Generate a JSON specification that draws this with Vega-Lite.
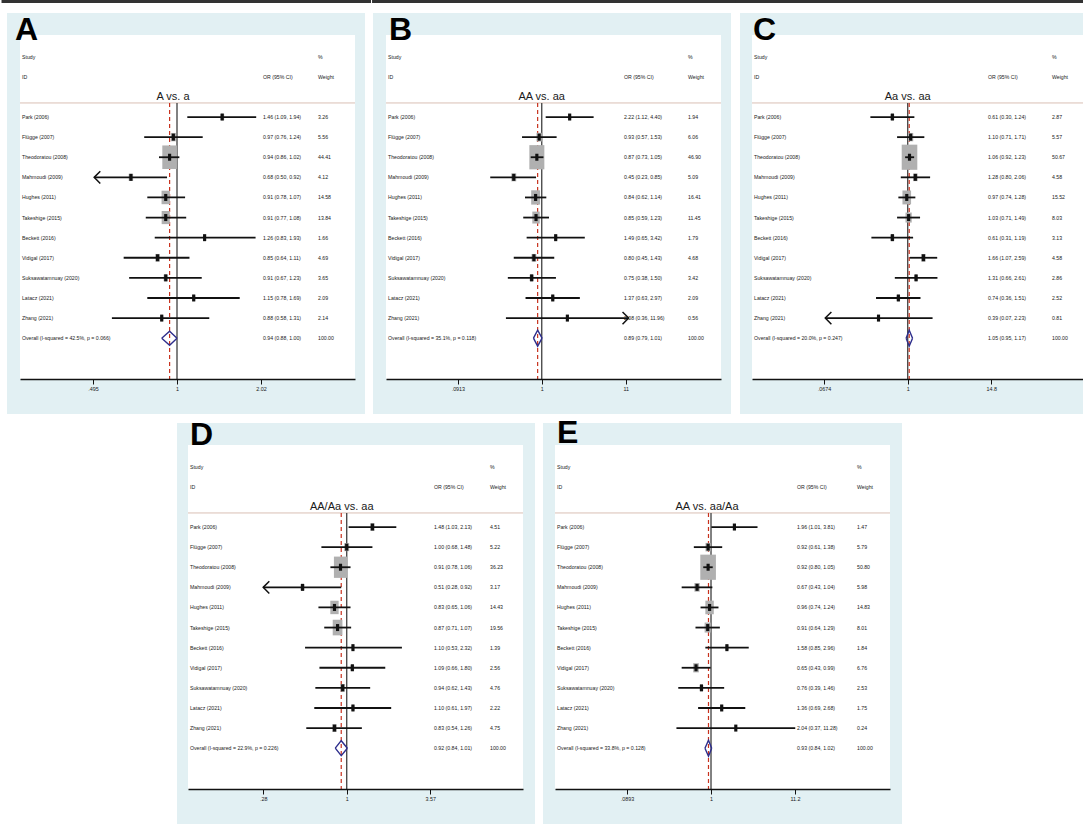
{
  "$schema": "https://vega.github.io/schema/vega-lite/v6.json",
  "background": "white",
  "padding": 0,
  "bounds": "full",
  "spacing": 1,
  "config": {
    "view": {"stroke": null},
    "axisY": {"disable": true},
    "axisX": {
      "domainColor": "#111111", "domainWidth": 1.3, "tickColor": "#111111", "tickWidth": 1, "tickSize": 5,
      "labelFont": "Liberation Sans, Arial", "labelFontSize": 5.4, "labelColor": "#1a1a1a",
      "labelPadding": 2, "grid": false, "labelFlush": false, "labelOverlap": false
    }
  },
  "datasets": {
    "A": [
      {"kind": "head", "row": -2, "study": "Study", "wt": "%"},
      {"kind": "head", "row": -1, "study": "ID", "ci": "OR (95% CI)", "wt": "Weight"},
      {"kind": "study", "row": 1, "study": "Park (2006)", "est": 1.46, "lci": 1.09, "uci": 1.94, "w": 3.26, "ci": "1.46 (1.09, 1.94)", "wt": "3.26"},
      {"kind": "study", "row": 2, "study": "Flügge (2007)", "est": 0.97, "lci": 0.76, "uci": 1.24, "w": 5.56, "ci": "0.97 (0.76, 1.24)", "wt": "5.56"},
      {"kind": "study", "row": 3, "study": "Theodoratou (2008)", "est": 0.94, "lci": 0.86, "uci": 1.02, "w": 44.41, "ci": "0.94 (0.86, 1.02)", "wt": "44.41"},
      {"kind": "study", "row": 4, "study": "Mahmoudi (2009)", "est": 0.68, "lci": 0.50, "uci": 0.92, "w": 4.12, "ci": "0.68 (0.50, 0.92)", "wt": "4.12", "arrow": "left"},
      {"kind": "study", "row": 5, "study": "Hughes (2011)", "est": 0.91, "lci": 0.78, "uci": 1.07, "w": 14.58, "ci": "0.91 (0.78, 1.07)", "wt": "14.58"},
      {"kind": "study", "row": 6, "study": "Takeshige (2015)", "est": 0.91, "lci": 0.77, "uci": 1.08, "w": 13.84, "ci": "0.91 (0.77, 1.08)", "wt": "13.84"},
      {"kind": "study", "row": 7, "study": "Beckett (2016)", "est": 1.26, "lci": 0.83, "uci": 1.93, "w": 1.66, "ci": "1.26 (0.83, 1.93)", "wt": "1.66"},
      {"kind": "study", "row": 8, "study": "Vidigal (2017)", "est": 0.85, "lci": 0.64, "uci": 1.11, "w": 4.69, "ci": "0.85 (0.64, 1.11)", "wt": "4.69"},
      {"kind": "study", "row": 9, "study": "Suksawatamnuay (2020)", "est": 0.91, "lci": 0.67, "uci": 1.23, "w": 3.65, "ci": "0.91 (0.67, 1.23)", "wt": "3.65"},
      {"kind": "study", "row": 10, "study": "Latacz (2021)", "est": 1.15, "lci": 0.78, "uci": 1.69, "w": 2.09, "ci": "1.15 (0.78, 1.69)", "wt": "2.09"},
      {"kind": "study", "row": 11, "study": "Zhang (2021)", "est": 0.88, "lci": 0.58, "uci": 1.31, "w": 2.14, "ci": "0.88 (0.58, 1.31)", "wt": "2.14"},
      {"kind": "overall", "row": 12, "study": "Overall  (I-squared = 42.5%, p = 0.066)", "est": 0.94, "lci": 0.88, "uci": 1.00, "w": 100, "ci": "0.94 (0.88, 1.00)", "wt": "100.00"}
    ],
    "B": [
      {"kind": "head", "row": -2, "study": "Study", "wt": "%"},
      {"kind": "head", "row": -1, "study": "ID", "ci": "OR (95% CI)", "wt": "Weight"},
      {"kind": "study", "row": 1, "study": "Park (2006)", "est": 2.22, "lci": 1.12, "uci": 4.40, "w": 1.94, "ci": "2.22 (1.12, 4.40)", "wt": "1.94"},
      {"kind": "study", "row": 2, "study": "Flügge (2007)", "est": 0.93, "lci": 0.57, "uci": 1.53, "w": 6.06, "ci": "0.93 (0.57, 1.53)", "wt": "6.06"},
      {"kind": "study", "row": 3, "study": "Theodoratou (2008)", "est": 0.87, "lci": 0.73, "uci": 1.05, "w": 46.90, "ci": "0.87 (0.73, 1.05)", "wt": "46.90"},
      {"kind": "study", "row": 4, "study": "Mahmoudi (2009)", "est": 0.45, "lci": 0.23, "uci": 0.85, "w": 5.09, "ci": "0.45 (0.23, 0.85)", "wt": "5.09"},
      {"kind": "study", "row": 5, "study": "Hughes (2011)", "est": 0.84, "lci": 0.62, "uci": 1.14, "w": 16.41, "ci": "0.84 (0.62, 1.14)", "wt": "16.41"},
      {"kind": "study", "row": 6, "study": "Takeshige (2015)", "est": 0.85, "lci": 0.59, "uci": 1.23, "w": 11.45, "ci": "0.85 (0.59, 1.23)", "wt": "11.45"},
      {"kind": "study", "row": 7, "study": "Beckett (2016)", "est": 1.49, "lci": 0.65, "uci": 3.42, "w": 1.79, "ci": "1.49 (0.65, 3.42)", "wt": "1.79"},
      {"kind": "study", "row": 8, "study": "Vidigal (2017)", "est": 0.80, "lci": 0.45, "uci": 1.43, "w": 4.68, "ci": "0.80 (0.45, 1.43)", "wt": "4.68"},
      {"kind": "study", "row": 9, "study": "Suksawatamnuay (2020)", "est": 0.75, "lci": 0.38, "uci": 1.50, "w": 3.42, "ci": "0.75 (0.38, 1.50)", "wt": "3.42"},
      {"kind": "study", "row": 10, "study": "Latacz (2021)", "est": 1.37, "lci": 0.63, "uci": 2.97, "w": 2.09, "ci": "1.37 (0.63, 2.97)", "wt": "2.09"},
      {"kind": "study", "row": 11, "study": "Zhang (2021)", "est": 2.08, "lci": 0.36, "uci": 11.96, "w": 0.56, "ci": "2.08 (0.36, 11.96)", "wt": "0.56", "arrow": "right"},
      {"kind": "overall", "row": 12, "study": "Overall  (I-squared = 35.1%, p = 0.118)", "est": 0.89, "lci": 0.79, "uci": 1.01, "w": 100, "ci": "0.89 (0.79, 1.01)", "wt": "100.00"}
    ],
    "C": [
      {"kind": "head", "row": -2, "study": "Study", "wt": "%"},
      {"kind": "head", "row": -1, "study": "ID", "ci": "OR (95% CI)", "wt": "Weight"},
      {"kind": "study", "row": 1, "study": "Park (2006)", "est": 0.61, "lci": 0.30, "uci": 1.24, "w": 2.87, "ci": "0.61 (0.30, 1.24)", "wt": "2.87"},
      {"kind": "study", "row": 2, "study": "Flügge (2007)", "est": 1.10, "lci": 0.71, "uci": 1.71, "w": 5.57, "ci": "1.10 (0.71, 1.71)", "wt": "5.57"},
      {"kind": "study", "row": 3, "study": "Theodoratou (2008)", "est": 1.06, "lci": 0.92, "uci": 1.23, "w": 50.67, "ci": "1.06 (0.92, 1.23)", "wt": "50.67"},
      {"kind": "study", "row": 4, "study": "Mahmoudi (2009)", "est": 1.28, "lci": 0.80, "uci": 2.06, "w": 4.58, "ci": "1.28 (0.80, 2.06)", "wt": "4.58"},
      {"kind": "study", "row": 5, "study": "Hughes (2011)", "est": 0.97, "lci": 0.74, "uci": 1.28, "w": 15.52, "ci": "0.97 (0.74, 1.28)", "wt": "15.52"},
      {"kind": "study", "row": 6, "study": "Takeshige (2015)", "est": 1.03, "lci": 0.71, "uci": 1.49, "w": 8.03, "ci": "1.03 (0.71, 1.49)", "wt": "8.03"},
      {"kind": "study", "row": 7, "study": "Beckett (2016)", "est": 0.61, "lci": 0.31, "uci": 1.19, "w": 3.13, "ci": "0.61 (0.31, 1.19)", "wt": "3.13"},
      {"kind": "study", "row": 8, "study": "Vidigal (2017)", "est": 1.66, "lci": 1.07, "uci": 2.59, "w": 4.58, "ci": "1.66 (1.07, 2.59)", "wt": "4.58"},
      {"kind": "study", "row": 9, "study": "Suksawatamnuay (2020)", "est": 1.31, "lci": 0.66, "uci": 2.61, "w": 2.86, "ci": "1.31 (0.66, 2.61)", "wt": "2.86"},
      {"kind": "study", "row": 10, "study": "Latacz (2021)", "est": 0.74, "lci": 0.36, "uci": 1.51, "w": 2.52, "ci": "0.74 (0.36, 1.51)", "wt": "2.52"},
      {"kind": "study", "row": 11, "study": "Zhang (2021)", "est": 0.39, "lci": 0.07, "uci": 2.23, "w": 0.81, "ci": "0.39 (0.07, 2.23)", "wt": "0.81", "arrow": "left"},
      {"kind": "overall", "row": 12, "study": "Overall  (I-squared = 20.0%, p = 0.247)", "est": 1.05, "lci": 0.95, "uci": 1.17, "w": 100, "ci": "1.05 (0.95, 1.17)", "wt": "100.00"}
    ],
    "D": [
      {"kind": "head", "row": -2, "study": "Study", "wt": "%"},
      {"kind": "head", "row": -1, "study": "ID", "ci": "OR (95% CI)", "wt": "Weight"},
      {"kind": "study", "row": 1, "study": "Park (2006)", "est": 1.48, "lci": 1.03, "uci": 2.13, "w": 4.51, "ci": "1.48 (1.03, 2.13)", "wt": "4.51"},
      {"kind": "study", "row": 2, "study": "Flügge (2007)", "est": 1.00, "lci": 0.68, "uci": 1.48, "w": 5.22, "ci": "1.00 (0.68, 1.48)", "wt": "5.22"},
      {"kind": "study", "row": 3, "study": "Theodoratou (2008)", "est": 0.91, "lci": 0.78, "uci": 1.06, "w": 36.23, "ci": "0.91 (0.78, 1.06)", "wt": "36.23"},
      {"kind": "study", "row": 4, "study": "Mahmoudi (2009)", "est": 0.51, "lci": 0.28, "uci": 0.92, "w": 3.17, "ci": "0.51 (0.28, 0.92)", "wt": "3.17", "arrow": "left"},
      {"kind": "study", "row": 5, "study": "Hughes (2011)", "est": 0.83, "lci": 0.65, "uci": 1.06, "w": 14.43, "ci": "0.83 (0.65, 1.06)", "wt": "14.43"},
      {"kind": "study", "row": 6, "study": "Takeshige (2015)", "est": 0.87, "lci": 0.71, "uci": 1.07, "w": 19.56, "ci": "0.87 (0.71, 1.07)", "wt": "19.56"},
      {"kind": "study", "row": 7, "study": "Beckett (2016)", "est": 1.10, "lci": 0.53, "uci": 2.32, "w": 1.39, "ci": "1.10 (0.53, 2.32)", "wt": "1.39"},
      {"kind": "study", "row": 8, "study": "Vidigal (2017)", "est": 1.09, "lci": 0.66, "uci": 1.80, "w": 2.56, "ci": "1.09 (0.66, 1.80)", "wt": "2.56"},
      {"kind": "study", "row": 9, "study": "Suksawatamnuay (2020)", "est": 0.94, "lci": 0.62, "uci": 1.43, "w": 4.76, "ci": "0.94 (0.62, 1.43)", "wt": "4.76"},
      {"kind": "study", "row": 10, "study": "Latacz (2021)", "est": 1.10, "lci": 0.61, "uci": 1.97, "w": 2.22, "ci": "1.10 (0.61, 1.97)", "wt": "2.22"},
      {"kind": "study", "row": 11, "study": "Zhang (2021)", "est": 0.83, "lci": 0.54, "uci": 1.26, "w": 4.75, "ci": "0.83 (0.54, 1.26)", "wt": "4.75"},
      {"kind": "overall", "row": 12, "study": "Overall  (I-squared = 22.9%, p = 0.226)", "est": 0.92, "lci": 0.84, "uci": 1.01, "w": 100, "ci": "0.92 (0.84, 1.01)", "wt": "100.00"}
    ],
    "E": [
      {"kind": "head", "row": -2, "study": "Study", "wt": "%"},
      {"kind": "head", "row": -1, "study": "ID", "ci": "OR (95% CI)", "wt": "Weight"},
      {"kind": "study", "row": 1, "study": "Park (2006)", "est": 1.96, "lci": 1.01, "uci": 3.81, "w": 1.47, "ci": "1.96 (1.01, 3.81)", "wt": "1.47"},
      {"kind": "study", "row": 2, "study": "Flügge (2007)", "est": 0.92, "lci": 0.61, "uci": 1.38, "w": 5.79, "ci": "0.92 (0.61, 1.38)", "wt": "5.79"},
      {"kind": "study", "row": 3, "study": "Theodoratou (2008)", "est": 0.92, "lci": 0.80, "uci": 1.05, "w": 50.80, "ci": "0.92 (0.80, 1.05)", "wt": "50.80"},
      {"kind": "study", "row": 4, "study": "Mahmoudi (2009)", "est": 0.67, "lci": 0.43, "uci": 1.04, "w": 5.98, "ci": "0.67 (0.43, 1.04)", "wt": "5.98"},
      {"kind": "study", "row": 5, "study": "Hughes (2011)", "est": 0.96, "lci": 0.74, "uci": 1.24, "w": 14.83, "ci": "0.96 (0.74, 1.24)", "wt": "14.83"},
      {"kind": "study", "row": 6, "study": "Takeshige (2015)", "est": 0.91, "lci": 0.64, "uci": 1.29, "w": 8.01, "ci": "0.91 (0.64, 1.29)", "wt": "8.01"},
      {"kind": "study", "row": 7, "study": "Beckett (2016)", "est": 1.58, "lci": 0.85, "uci": 2.96, "w": 1.84, "ci": "1.58 (0.85, 2.96)", "wt": "1.84"},
      {"kind": "study", "row": 8, "study": "Vidigal (2017)", "est": 0.65, "lci": 0.43, "uci": 0.99, "w": 6.76, "ci": "0.65 (0.43, 0.99)", "wt": "6.76"},
      {"kind": "study", "row": 9, "study": "Suksawatamnuay (2020)", "est": 0.76, "lci": 0.39, "uci": 1.46, "w": 2.53, "ci": "0.76 (0.39, 1.46)", "wt": "2.53"},
      {"kind": "study", "row": 10, "study": "Latacz (2021)", "est": 1.36, "lci": 0.69, "uci": 2.68, "w": 1.75, "ci": "1.36 (0.69, 2.68)", "wt": "1.75"},
      {"kind": "study", "row": 11, "study": "Zhang (2021)", "est": 2.04, "lci": 0.37, "uci": 11.28, "w": 0.24, "ci": "2.04 (0.37, 11.28)", "wt": "0.24"},
      {"kind": "overall", "row": 12, "study": "Overall  (I-squared = 33.8%, p = 0.128)", "est": 0.93, "lci": 0.84, "uci": 1.02, "w": 100, "ci": "0.93 (0.84, 1.02)", "wt": "100.00"}
    ]
  },
  "vconcat": [
    {
      "bounds": "flush",
      "spacing": 31,
      "hconcat": [
        {
          "width": 335, "height": 344,
          "layer": [
            {"data": {"values": [{}]}, "mark": {"type": "rect", "color": "#e2f0f3"},
             "encoding": {
               "x": {"datum": 0.2411, "type": "quantitative", "scale": {"type": "log", "domain": [0.2688, 4.435], "nice": false},
                     "axis": {"title": null, "zindex": 1, "values": [0.495, 1, 2.02], "labelExpr": "datum.value < 0.9 ? '.495' : datum.value > 1.1 ? '2.02' : '1'"}},
               "x2": {"datum": 4.822},
               "y": {"datum": -4.174, "type": "quantitative", "scale": {"domain": [-3.08, 14.03], "reverse": true, "nice": false, "zero": false}},
               "y2": {"datum": 15.771}}},
            {"data": {"values": [{}]}, "mark": {"type": "rect", "color": "#ffffff"},
             "encoding": {"x": {"datum": 0.2688, "type": "quantitative"}, "x2": {"datum": 4.435}, "y": {"datum": -3.08, "type": "quantitative"}, "y2": {"datum": 14.03}}},
            {"data": {"values": [{}]}, "mark": {"type": "rule", "color": "#333333", "strokeWidth": 3},
             "encoding": {"x": {"datum": 0.2303, "type": "quantitative"}, "x2": {"datum": 5.07}, "y": {"datum": -4.746, "type": "quantitative"}}},
            {"data": {"values": [{}]}, "mark": {"type": "rule", "color": "#d9bfb4", "strokeWidth": 1},
             "encoding": {"x": {"datum": 0.2688, "type": "quantitative"}, "x2": {"datum": 4.435}, "y": {"datum": 0.3, "type": "quantitative"}}},
            {"data": {"values": [{}]}, "mark": {"type": "rule", "color": "#4d4d4d", "strokeWidth": 1.4},
             "encoding": {"x": {"datum": 1, "type": "quantitative"}, "y": {"datum": 0.3, "type": "quantitative"}, "y2": {"datum": 14.03}}},
            {"data": {"name": "A"}, "transform": [{"filter": "datum.kind === 'overall'"}],
             "mark": {"type": "rule", "color": "#c8321e", "strokeWidth": 1.2, "strokeDash": [4, 3]},
             "encoding": {"x": {"field": "est", "type": "quantitative"}, "y": {"datum": 0.3, "type": "quantitative"}, "y2": {"datum": 14.03}}},
            {"data": {"name": "A"}, "transform": [{"filter": "datum.kind === 'study'"}],
             "mark": {"type": "point", "shape": "M-0.62,-1H0.62V1H-0.62Z", "filled": true, "color": "#b0b0b0", "opacity": 1, "strokeWidth": 0},
             "encoding": {"x": {"field": "est", "type": "quantitative"}, "y": {"field": "row", "type": "quantitative"},
                          "size": {"field": "w", "type": "quantitative", "scale": {"domain": [0, 100], "range": [0, 1250]}, "legend": null}}},
            {"data": {"name": "A"}, "transform": [{"filter": "datum.kind === 'study'"}],
             "mark": {"type": "rule", "color": "#111111", "strokeWidth": 1.8},
             "encoding": {"x": {"field": "lci", "type": "quantitative"}, "x2": {"field": "uci"}, "y": {"field": "row", "type": "quantitative"}}},
            {"data": {"name": "A"}, "transform": [{"filter": "datum.kind === 'study'"}],
             "mark": {"type": "point", "shape": "M-0.45,-1H0.45V1H-0.45Z", "filled": true, "color": "#111111", "opacity": 1, "size": 49, "strokeWidth": 0},
             "encoding": {"x": {"field": "est", "type": "quantitative"}, "y": {"field": "row", "type": "quantitative"}}},
            {"data": {"name": "A"}, "transform": [{"filter": "datum.arrow === 'left'"}],
             "mark": {"type": "point", "shape": "M1,-1L0,0L1,1", "filled": false, "color": "#111111", "opacity": 1, "size": 150, "strokeWidth": 1.5},
             "encoding": {"x": {"field": "lci", "type": "quantitative"}, "y": {"field": "row", "type": "quantitative"}}},
            {"data": {"name": "A"}, "transform": [{"filter": "datum.kind === 'overall'"}, {"fold": ["lci", "est", "uci"], "as": ["k", "v"]}],
             "mark": {"type": "line", "color": "#2e2e8c", "strokeWidth": 1.4, "yOffset": {"expr": "datum.k === 'est' ? -7 : 0"}},
             "encoding": {"x": {"field": "v", "type": "quantitative"}, "y": {"field": "row", "type": "quantitative"}, "order": {"field": "v", "type": "quantitative"}}},
            {"data": {"name": "A"}, "transform": [{"filter": "datum.kind === 'overall'"}, {"fold": ["lci", "est", "uci"], "as": ["k", "v"]}],
             "mark": {"type": "line", "color": "#2e2e8c", "strokeWidth": 1.4, "yOffset": {"expr": "datum.k === 'est' ? 7 : 0"}},
             "encoding": {"x": {"field": "v", "type": "quantitative"}, "y": {"field": "row", "type": "quantitative"}, "order": {"field": "v", "type": "quantitative"}}},
            {"data": {"name": "A"},
             "mark": {"type": "text", "align": "left", "baseline": "middle", "font": "Liberation Sans, Arial", "fontSize": 5.2, "color": "#1a1a1a"},
             "encoding": {"x": {"datum": 0.2733, "type": "quantitative"}, "y": {"field": "row", "type": "quantitative"}, "text": {"field": "study", "type": "nominal"}}},
            {"data": {"name": "A"}, "transform": [{"filter": "isValid(datum.ci)"}],
             "mark": {"type": "text", "align": "left", "baseline": "middle", "font": "Liberation Sans, Arial", "fontSize": 5.2, "color": "#1a1a1a"},
             "encoding": {"x": {"datum": 2.054, "type": "quantitative"}, "y": {"field": "row", "type": "quantitative"}, "text": {"field": "ci", "type": "nominal"}}},
            {"data": {"name": "A"}, "transform": [{"filter": "isValid(datum.wt)"}],
             "mark": {"type": "text", "align": "left", "baseline": "middle", "font": "Liberation Sans, Arial", "fontSize": 5.2, "color": "#1a1a1a"},
             "encoding": {"x": {"datum": 3.254, "type": "quantitative"}, "y": {"field": "row", "type": "quantitative"}, "text": {"field": "wt", "type": "nominal"}}},
            {"data": {"values": [{"t": "A vs. a"}]},
             "mark": {"type": "text", "align": "center", "baseline": "middle", "font": "Liberation Sans, Arial", "fontSize": 11, "color": "#1a1a1a", "dx": -4},
             "encoding": {"x": {"datum": 1, "type": "quantitative"}, "y": {"datum": 0, "type": "quantitative"}, "text": {"field": "t", "type": "nominal"}}},
            {"data": {"values": [{"t": "A"}]},
             "mark": {"type": "text", "align": "left", "baseline": "alphabetic", "font": "Liberation Sans, Arial", "fontWeight": "bold", "fontSize": 32, "color": "#000000"},
             "encoding": {"x": {"datum": 0.2578, "type": "quantitative"}, "y": {"datum": -2.83, "type": "quantitative"}, "text": {"field": "t", "type": "nominal"}}}
          ]
        },
        {
          "width": 335, "height": 344,
          "layer": [
            {"data": {"values": [{}]}, "mark": {"type": "rect", "color": "#e2f0f3"},
             "encoding": {
               "x": {"datum": 0.0081, "type": "quantitative", "scale": {"type": "log", "domain": [0.01173, 167.0], "nice": false},
                     "axis": {"title": null, "zindex": 1, "values": [0.0913, 1, 11], "labelExpr": "datum.value < 0.9 ? '.0913' : datum.value > 1.1 ? '11' : '1'"}},
               "x2": {"datum": 222.3},
               "y": {"datum": -4.174, "type": "quantitative", "scale": {"domain": [-3.08, 14.03], "reverse": true, "nice": false, "zero": false}},
               "y2": {"datum": 15.771}}},
            {"data": {"values": [{}]}, "mark": {"type": "rect", "color": "#ffffff"},
             "encoding": {"x": {"datum": 0.01173, "type": "quantitative"}, "x2": {"datum": 167.0}, "y": {"datum": -3.08, "type": "quantitative"}, "y2": {"datum": 14.03}}},
            {"data": {"values": [{}]}, "mark": {"type": "rule", "color": "#333333", "strokeWidth": 3},
             "encoding": {"x": {"datum": 0.007875, "type": "quantitative"}, "x2": {"datum": 256.5}, "y": {"datum": -4.746, "type": "quantitative"}}},
            {"data": {"values": [{}]}, "mark": {"type": "rule", "color": "#d9bfb4", "strokeWidth": 1},
             "encoding": {"x": {"datum": 0.01173, "type": "quantitative"}, "x2": {"datum": 167.0}, "y": {"datum": 0.3, "type": "quantitative"}}},
            {"data": {"values": [{}]}, "mark": {"type": "rule", "color": "#4d4d4d", "strokeWidth": 1.4},
             "encoding": {"x": {"datum": 1, "type": "quantitative"}, "y": {"datum": 0.3, "type": "quantitative"}, "y2": {"datum": 14.03}}},
            {"data": {"name": "B"}, "transform": [{"filter": "datum.kind === 'overall'"}],
             "mark": {"type": "rule", "color": "#c8321e", "strokeWidth": 1.2, "strokeDash": [4, 3]},
             "encoding": {"x": {"field": "est", "type": "quantitative"}, "y": {"datum": 0.3, "type": "quantitative"}, "y2": {"datum": 14.03}}},
            {"data": {"name": "B"}, "transform": [{"filter": "datum.kind === 'study'"}],
             "mark": {"type": "point", "shape": "M-0.62,-1H0.62V1H-0.62Z", "filled": true, "color": "#b0b0b0", "opacity": 1, "strokeWidth": 0},
             "encoding": {"x": {"field": "est", "type": "quantitative"}, "y": {"field": "row", "type": "quantitative"},
                          "size": {"field": "w", "type": "quantitative", "scale": {"domain": [0, 100], "range": [0, 1540]}, "legend": null}}},
            {"data": {"name": "B"}, "transform": [{"filter": "datum.kind === 'study'"}],
             "mark": {"type": "rule", "color": "#111111", "strokeWidth": 1.8},
             "encoding": {"x": {"field": "lci", "type": "quantitative"}, "x2": {"field": "uci"}, "y": {"field": "row", "type": "quantitative"}}},
            {"data": {"name": "B"}, "transform": [{"filter": "datum.kind === 'study'"}],
             "mark": {"type": "point", "shape": "M-0.45,-1H0.45V1H-0.45Z", "filled": true, "color": "#111111", "opacity": 1, "size": 49, "strokeWidth": 0},
             "encoding": {"x": {"field": "est", "type": "quantitative"}, "y": {"field": "row", "type": "quantitative"}}},
            {"data": {"name": "B"}, "transform": [{"filter": "datum.arrow === 'right'"}],
             "mark": {"type": "point", "shape": "M-1,-1L0,0L-1,1", "filled": false, "color": "#111111", "opacity": 1, "size": 150, "strokeWidth": 1.5},
             "encoding": {"x": {"field": "uci", "type": "quantitative"}, "y": {"field": "row", "type": "quantitative"}}},
            {"data": {"name": "B"}, "transform": [{"filter": "datum.kind === 'overall'"}, {"fold": ["lci", "est", "uci"], "as": ["k", "v"]}],
             "mark": {"type": "line", "color": "#2e2e8c", "strokeWidth": 1.4, "yOffset": {"expr": "datum.k === 'est' ? -8 : 0"}},
             "encoding": {"x": {"field": "v", "type": "quantitative"}, "y": {"field": "row", "type": "quantitative"}, "order": {"field": "v", "type": "quantitative"}}},
            {"data": {"name": "B"}, "transform": [{"filter": "datum.kind === 'overall'"}, {"fold": ["lci", "est", "uci"], "as": ["k", "v"]}],
             "mark": {"type": "line", "color": "#2e2e8c", "strokeWidth": 1.4, "yOffset": {"expr": "datum.k === 'est' ? 8 : 0"}},
             "encoding": {"x": {"field": "v", "type": "quantitative"}, "y": {"field": "row", "type": "quantitative"}, "order": {"field": "v", "type": "quantitative"}}},
            {"data": {"name": "B"},
             "mark": {"type": "text", "align": "left", "baseline": "middle", "font": "Liberation Sans, Arial", "fontSize": 5.2, "color": "#1a1a1a"},
             "encoding": {"x": {"datum": 0.01243, "type": "quantitative"}, "y": {"field": "row", "type": "quantitative"}, "text": {"field": "study", "type": "nominal"}}},
            {"data": {"name": "B"}, "transform": [{"filter": "isValid(datum.ci)"}],
             "mark": {"type": "text", "align": "left", "baseline": "middle", "font": "Liberation Sans, Arial", "fontSize": 5.2, "color": "#1a1a1a"},
             "encoding": {"x": {"datum": 10.48, "type": "quantitative"}, "y": {"field": "row", "type": "quantitative"}, "text": {"field": "ci", "type": "nominal"}}},
            {"data": {"name": "B"}, "transform": [{"filter": "isValid(datum.wt)"}],
             "mark": {"type": "text", "align": "left", "baseline": "middle", "font": "Liberation Sans, Arial", "fontSize": 5.2, "color": "#1a1a1a"},
             "encoding": {"x": {"datum": 65.1, "type": "quantitative"}, "y": {"field": "row", "type": "quantitative"}, "text": {"field": "wt", "type": "nominal"}}},
            {"data": {"values": [{"t": "AA vs. aa"}]},
             "mark": {"type": "text", "align": "center", "baseline": "middle", "font": "Liberation Sans, Arial", "fontSize": 11, "color": "#1a1a1a"},
             "encoding": {"x": {"datum": 1, "type": "quantitative"}, "y": {"datum": 0, "type": "quantitative"}, "text": {"field": "t", "type": "nominal"}}},
            {"data": {"values": [{"t": "B"}]},
             "mark": {"type": "text", "align": "left", "baseline": "alphabetic", "font": "Liberation Sans, Arial", "fontWeight": "bold", "fontSize": 32, "color": "#000000"},
             "encoding": {"x": {"datum": 0.01279, "type": "quantitative"}, "y": {"datum": -2.83, "type": "quantitative"}, "text": {"field": "t", "type": "nominal"}}}
          ]
        },
        {
          "width": 335, "height": 344,
          "layer": [
            {"data": {"values": [{}]}, "mark": {"type": "rect", "color": "#e2f0f3"},
             "encoding": {
               "x": {"datum": 0.004472, "type": "quantitative", "scale": {"type": "log", "domain": [0.006587, 325.0], "nice": false},
                     "axis": {"title": null, "zindex": 1, "values": [0.0674, 1, 14.8], "labelExpr": "datum.value < 0.9 ? '.0674' : datum.value > 1.1 ? '14.8' : '1'"}},
               "x2": {"datum": 448.5},
               "y": {"datum": -4.174, "type": "quantitative", "scale": {"domain": [-3.08, 14.03], "reverse": true, "nice": false, "zero": false}},
               "y2": {"datum": 15.771}}},
            {"data": {"values": [{}]}, "mark": {"type": "rect", "color": "#ffffff"},
             "encoding": {"x": {"datum": 0.006587, "type": "quantitative"}, "x2": {"datum": 325.0}, "y": {"datum": -3.08, "type": "quantitative"}, "y2": {"datum": 14.03}}},
            {"data": {"values": [{}]}, "mark": {"type": "rule", "color": "#333333", "strokeWidth": 3},
             "encoding": {"x": {"datum": 0.003807, "type": "quantitative"}, "x2": {"datum": 448.5}, "y": {"datum": -4.746, "type": "quantitative"}}},
            {"data": {"values": [{}]}, "mark": {"type": "rule", "color": "#d9bfb4", "strokeWidth": 1},
             "encoding": {"x": {"datum": 0.006587, "type": "quantitative"}, "x2": {"datum": 325.0}, "y": {"datum": 0.3, "type": "quantitative"}}},
            {"data": {"values": [{}]}, "mark": {"type": "rule", "color": "#4d4d4d", "strokeWidth": 1.4},
             "encoding": {"x": {"datum": 1, "type": "quantitative"}, "y": {"datum": 0.3, "type": "quantitative"}, "y2": {"datum": 14.03}}},
            {"data": {"name": "C"}, "transform": [{"filter": "datum.kind === 'overall'"}],
             "mark": {"type": "rule", "color": "#c8321e", "strokeWidth": 1.2, "strokeDash": [4, 3]},
             "encoding": {"x": {"field": "est", "type": "quantitative"}, "y": {"datum": 0.3, "type": "quantitative"}, "y2": {"datum": 14.03}}},
            {"data": {"name": "C"}, "transform": [{"filter": "datum.kind === 'study'"}],
             "mark": {"type": "point", "shape": "M-0.62,-1H0.62V1H-0.62Z", "filled": true, "color": "#b0b0b0", "opacity": 1, "strokeWidth": 0},
             "encoding": {"x": {"field": "est", "type": "quantitative"}, "y": {"field": "row", "type": "quantitative"},
                          "size": {"field": "w", "type": "quantitative", "scale": {"domain": [0, 100], "range": [0, 1690]}, "legend": null}}},
            {"data": {"name": "C"}, "transform": [{"filter": "datum.kind === 'study'"}],
             "mark": {"type": "rule", "color": "#111111", "strokeWidth": 1.8},
             "encoding": {"x": {"field": "lci", "type": "quantitative"}, "x2": {"field": "uci"}, "y": {"field": "row", "type": "quantitative"}}},
            {"data": {"name": "C"}, "transform": [{"filter": "datum.kind === 'study'"}],
             "mark": {"type": "point", "shape": "M-0.45,-1H0.45V1H-0.45Z", "filled": true, "color": "#111111", "opacity": 1, "size": 49, "strokeWidth": 0},
             "encoding": {"x": {"field": "est", "type": "quantitative"}, "y": {"field": "row", "type": "quantitative"}}},
            {"data": {"name": "C"}, "transform": [{"filter": "datum.arrow === 'left'"}],
             "mark": {"type": "point", "shape": "M1,-1L0,0L1,1", "filled": false, "color": "#111111", "opacity": 1, "size": 150, "strokeWidth": 1.5},
             "encoding": {"x": {"field": "lci", "type": "quantitative"}, "y": {"field": "row", "type": "quantitative"}}},
            {"data": {"name": "C"}, "transform": [{"filter": "datum.kind === 'overall'"}, {"fold": ["lci", "est", "uci"], "as": ["k", "v"]}],
             "mark": {"type": "line", "color": "#2e2e8c", "strokeWidth": 1.4, "yOffset": {"expr": "datum.k === 'est' ? -8 : 0"}},
             "encoding": {"x": {"field": "v", "type": "quantitative"}, "y": {"field": "row", "type": "quantitative"}, "order": {"field": "v", "type": "quantitative"}}},
            {"data": {"name": "C"}, "transform": [{"filter": "datum.kind === 'overall'"}, {"fold": ["lci", "est", "uci"], "as": ["k", "v"]}],
             "mark": {"type": "line", "color": "#2e2e8c", "strokeWidth": 1.4, "yOffset": {"expr": "datum.k === 'est' ? 8 : 0"}},
             "encoding": {"x": {"field": "v", "type": "quantitative"}, "y": {"field": "row", "type": "quantitative"}, "order": {"field": "v", "type": "quantitative"}}},
            {"data": {"name": "C"},
             "mark": {"type": "text", "align": "left", "baseline": "middle", "font": "Liberation Sans, Arial", "fontSize": 5.2, "color": "#1a1a1a"},
             "encoding": {"x": {"datum": 0.007027, "type": "quantitative"}, "y": {"field": "row", "type": "quantitative"}, "text": {"field": "study", "type": "nominal"}}},
            {"data": {"name": "C"}, "transform": [{"filter": "isValid(datum.ci)"}],
             "mark": {"type": "text", "align": "left", "baseline": "middle", "font": "Liberation Sans, Arial", "fontSize": 5.2, "color": "#1a1a1a"},
             "encoding": {"x": {"datum": 13.33, "type": "quantitative"}, "y": {"field": "row", "type": "quantitative"}, "text": {"field": "ci", "type": "nominal"}}},
            {"data": {"name": "C"}, "transform": [{"filter": "isValid(datum.wt)"}],
             "mark": {"type": "text", "align": "left", "baseline": "middle", "font": "Liberation Sans, Arial", "fontSize": 5.2, "color": "#1a1a1a"},
             "encoding": {"x": {"datum": 105.1, "type": "quantitative"}, "y": {"field": "row", "type": "quantitative"}, "text": {"field": "wt", "type": "nominal"}}},
            {"data": {"values": [{"t": "Aa vs. aa"}]},
             "mark": {"type": "text", "align": "center", "baseline": "middle", "font": "Liberation Sans, Arial", "fontSize": 11, "color": "#1a1a1a"},
             "encoding": {"x": {"datum": 1, "type": "quantitative"}, "y": {"datum": 0, "type": "quantitative"}, "text": {"field": "t", "type": "nominal"}}},
            {"data": {"values": [{"t": "C"}]},
             "mark": {"type": "text", "align": "left", "baseline": "alphabetic", "font": "Liberation Sans, Arial", "fontWeight": "bold", "fontSize": 32, "color": "#000000"},
             "encoding": {"x": {"datum": 0.006806, "type": "quantitative"}, "y": {"datum": -2.83, "type": "quantitative"}, "text": {"field": "t", "type": "nominal"}}}
          ]
        }
      ]
    },
    {
      "bounds": "flush",
      "spacing": 32,
      "hconcat": [
        {"width": 136, "height": 344, "data": {"values": []}, "mark": "point"},
        {
          "width": 335, "height": 344,
          "layer": [
            {"data": {"values": [{}]}, "mark": {"type": "rect", "color": "#e2f0f3"},
             "encoding": {
               "x": {"datum": 0.07525, "type": "quantitative", "scale": {"type": "log", "domain": [0.08901, 14.69], "nice": false},
                     "axis": {"title": null, "zindex": 1, "values": [0.28, 1, 3.57], "labelExpr": "datum.value < 0.9 ? '.28' : datum.value > 1.1 ? '3.57' : '1'"}},
               "x2": {"datum": 17.64},
               "y": {"datum": -4.174, "type": "quantitative", "scale": {"domain": [-3.08, 14.03], "reverse": true, "nice": false, "zero": false}},
               "y2": {"datum": 15.771}}},
            {"data": {"values": [{}]}, "mark": {"type": "rect", "color": "#ffffff"},
             "encoding": {"x": {"datum": 0.08901, "type": "quantitative"}, "x2": {"datum": 14.69}, "y": {"datum": -3.08, "type": "quantitative"}, "y2": {"datum": 14.03}}},
            {"data": {"values": [{}]}, "mark": {"type": "rule", "color": "#d9bfb4", "strokeWidth": 1},
             "encoding": {"x": {"datum": 0.08901, "type": "quantitative"}, "x2": {"datum": 14.69}, "y": {"datum": 0.3, "type": "quantitative"}}},
            {"data": {"values": [{}]}, "mark": {"type": "rule", "color": "#4d4d4d", "strokeWidth": 1.4},
             "encoding": {"x": {"datum": 1, "type": "quantitative"}, "y": {"datum": 0.3, "type": "quantitative"}, "y2": {"datum": 14.03}}},
            {"data": {"name": "D"}, "transform": [{"filter": "datum.kind === 'overall'"}],
             "mark": {"type": "rule", "color": "#c8321e", "strokeWidth": 1.2, "strokeDash": [4, 3]},
             "encoding": {"x": {"field": "est", "type": "quantitative"}, "y": {"datum": 0.3, "type": "quantitative"}, "y2": {"datum": 14.03}}},
            {"data": {"name": "D"}, "transform": [{"filter": "datum.kind === 'study'"}],
             "mark": {"type": "point", "shape": "M-0.62,-1H0.62V1H-0.62Z", "filled": true, "color": "#b0b0b0", "opacity": 1, "strokeWidth": 0},
             "encoding": {"x": {"field": "est", "type": "quantitative"}, "y": {"field": "row", "type": "quantitative"},
                          "size": {"field": "w", "type": "quantitative", "scale": {"domain": [0, 100], "range": [0, 1370]}, "legend": null}}},
            {"data": {"name": "D"}, "transform": [{"filter": "datum.kind === 'study'"}],
             "mark": {"type": "rule", "color": "#111111", "strokeWidth": 1.8},
             "encoding": {"x": {"field": "lci", "type": "quantitative"}, "x2": {"field": "uci"}, "y": {"field": "row", "type": "quantitative"}}},
            {"data": {"name": "D"}, "transform": [{"filter": "datum.kind === 'study'"}],
             "mark": {"type": "point", "shape": "M-0.45,-1H0.45V1H-0.45Z", "filled": true, "color": "#111111", "opacity": 1, "size": 49, "strokeWidth": 0},
             "encoding": {"x": {"field": "est", "type": "quantitative"}, "y": {"field": "row", "type": "quantitative"}}},
            {"data": {"name": "D"}, "transform": [{"filter": "datum.arrow === 'left'"}],
             "mark": {"type": "point", "shape": "M1,-1L0,0L1,1", "filled": false, "color": "#111111", "opacity": 1, "size": 150, "strokeWidth": 1.5},
             "encoding": {"x": {"field": "lci", "type": "quantitative"}, "y": {"field": "row", "type": "quantitative"}}},
            {"data": {"name": "D"}, "transform": [{"filter": "datum.kind === 'overall'"}, {"fold": ["lci", "est", "uci"], "as": ["k", "v"]}],
             "mark": {"type": "line", "color": "#2e2e8c", "strokeWidth": 1.4, "yOffset": {"expr": "datum.k === 'est' ? -7.5 : 0"}},
             "encoding": {"x": {"field": "v", "type": "quantitative"}, "y": {"field": "row", "type": "quantitative"}, "order": {"field": "v", "type": "quantitative"}}},
            {"data": {"name": "D"}, "transform": [{"filter": "datum.kind === 'overall'"}, {"fold": ["lci", "est", "uci"], "as": ["k", "v"]}],
             "mark": {"type": "line", "color": "#2e2e8c", "strokeWidth": 1.4, "yOffset": {"expr": "datum.k === 'est' ? 7.5 : 0"}},
             "encoding": {"x": {"field": "v", "type": "quantitative"}, "y": {"field": "row", "type": "quantitative"}, "order": {"field": "v", "type": "quantitative"}}},
            {"data": {"name": "D"},
             "mark": {"type": "text", "align": "left", "baseline": "middle", "font": "Liberation Sans, Arial", "fontSize": 5.2, "color": "#1a1a1a"},
             "encoding": {"x": {"datum": 0.09172, "type": "quantitative"}, "y": {"field": "row", "type": "quantitative"}, "text": {"field": "study", "type": "nominal"}}},
            {"data": {"name": "D"}, "transform": [{"filter": "isValid(datum.ci)"}],
             "mark": {"type": "text", "align": "left", "baseline": "middle", "font": "Liberation Sans, Arial", "fontSize": 5.2, "color": "#1a1a1a"},
             "encoding": {"x": {"datum": 3.785, "type": "quantitative"}, "y": {"field": "row", "type": "quantitative"}, "text": {"field": "ci", "type": "nominal"}}},
            {"data": {"name": "D"}, "transform": [{"filter": "isValid(datum.wt)"}],
             "mark": {"type": "text", "align": "left", "baseline": "middle", "font": "Liberation Sans, Arial", "fontSize": 5.2, "color": "#1a1a1a"},
             "encoding": {"x": {"datum": 8.882, "type": "quantitative"}, "y": {"field": "row", "type": "quantitative"}, "text": {"field": "wt", "type": "nominal"}}},
            {"data": {"values": [{"t": "AA/Aa vs. aa"}]},
             "mark": {"type": "text", "align": "center", "baseline": "middle", "font": "Liberation Sans, Arial", "fontSize": 11, "color": "#1a1a1a", "dx": -5},
             "encoding": {"x": {"datum": 1, "type": "quantitative"}, "y": {"datum": 0, "type": "quantitative"}, "text": {"field": "t", "type": "nominal"}}},
            {"data": {"values": [{"t": "D"}]},
             "mark": {"type": "text", "align": "left", "baseline": "alphabetic", "font": "Liberation Sans, Arial", "fontWeight": "bold", "fontSize": 32, "color": "#000000"},
             "encoding": {"x": {"datum": 0.09172, "type": "quantitative"}, "y": {"datum": -3.08, "type": "quantitative"}, "text": {"field": "t", "type": "nominal"}}}
          ]
        },
        {
          "width": 335, "height": 344,
          "layer": [
            {"data": {"values": [{}]}, "mark": {"type": "rect", "color": "#e2f0f3"},
             "encoding": {
               "x": {"datum": 0.007971, "type": "quantitative", "scale": {"type": "log", "domain": [0.011254, 172.1], "nice": false},
                     "axis": {"title": null, "zindex": 1, "values": [0.0893, 1, 11.2], "labelExpr": "datum.value < 0.9 ? '.0893' : datum.value > 1.1 ? '11.2' : '1'"}},
               "x2": {"datum": 243.0},
               "y": {"datum": -4.174, "type": "quantitative", "scale": {"domain": [-3.08, 14.03], "reverse": true, "nice": false, "zero": false}},
               "y2": {"datum": 15.771}}},
            {"data": {"values": [{}]}, "mark": {"type": "rect", "color": "#ffffff"},
             "encoding": {"x": {"datum": 0.011254, "type": "quantitative"}, "x2": {"datum": 172.1}, "y": {"datum": -3.08, "type": "quantitative"}, "y2": {"datum": 14.03}}},
            {"data": {"values": [{}]}, "mark": {"type": "rule", "color": "#d9bfb4", "strokeWidth": 1},
             "encoding": {"x": {"datum": 0.011254, "type": "quantitative"}, "x2": {"datum": 172.1}, "y": {"datum": 0.3, "type": "quantitative"}}},
            {"data": {"values": [{}]}, "mark": {"type": "rule", "color": "#4d4d4d", "strokeWidth": 1.4},
             "encoding": {"x": {"datum": 1, "type": "quantitative"}, "y": {"datum": 0.3, "type": "quantitative"}, "y2": {"datum": 14.03}}},
            {"data": {"name": "E"}, "transform": [{"filter": "datum.kind === 'overall'"}],
             "mark": {"type": "rule", "color": "#c8321e", "strokeWidth": 1.2, "strokeDash": [4, 3]},
             "encoding": {"x": {"field": "est", "type": "quantitative"}, "y": {"datum": 0.3, "type": "quantitative"}, "y2": {"datum": 14.03}}},
            {"data": {"name": "E"}, "transform": [{"filter": "datum.kind === 'study'"}],
             "mark": {"type": "point", "shape": "M-0.62,-1H0.62V1H-0.62Z", "filled": true, "color": "#b0b0b0", "opacity": 1, "strokeWidth": 0},
             "encoding": {"x": {"field": "est", "type": "quantitative"}, "y": {"field": "row", "type": "quantitative"},
                          "size": {"field": "w", "type": "quantitative", "scale": {"domain": [0, 100], "range": [0, 1810]}, "legend": null}}},
            {"data": {"name": "E"}, "transform": [{"filter": "datum.kind === 'study'"}],
             "mark": {"type": "rule", "color": "#111111", "strokeWidth": 1.8},
             "encoding": {"x": {"field": "lci", "type": "quantitative"}, "x2": {"field": "uci"}, "y": {"field": "row", "type": "quantitative"}}},
            {"data": {"name": "E"}, "transform": [{"filter": "datum.kind === 'study'"}],
             "mark": {"type": "point", "shape": "M-0.45,-1H0.45V1H-0.45Z", "filled": true, "color": "#111111", "opacity": 1, "size": 49, "strokeWidth": 0},
             "encoding": {"x": {"field": "est", "type": "quantitative"}, "y": {"field": "row", "type": "quantitative"}}},
            {"data": {"name": "E"}, "transform": [{"filter": "datum.kind === 'overall'"}, {"fold": ["lci", "est", "uci"], "as": ["k", "v"]}],
             "mark": {"type": "line", "color": "#2e2e8c", "strokeWidth": 1.4, "yOffset": {"expr": "datum.k === 'est' ? -8 : 0"}},
             "encoding": {"x": {"field": "v", "type": "quantitative"}, "y": {"field": "row", "type": "quantitative"}, "order": {"field": "v", "type": "quantitative"}}},
            {"data": {"name": "E"}, "transform": [{"filter": "datum.kind === 'overall'"}, {"fold": ["lci", "est", "uci"], "as": ["k", "v"]}],
             "mark": {"type": "line", "color": "#2e2e8c", "strokeWidth": 1.4, "yOffset": {"expr": "datum.k === 'est' ? 8 : 0"}},
             "encoding": {"x": {"field": "v", "type": "quantitative"}, "y": {"field": "row", "type": "quantitative"}, "order": {"field": "v", "type": "quantitative"}}},
            {"data": {"name": "E"},
             "mark": {"type": "text", "align": "left", "baseline": "middle", "font": "Liberation Sans, Arial", "fontSize": 5.2, "color": "#1a1a1a"},
             "encoding": {"x": {"datum": 0.01193, "type": "quantitative"}, "y": {"field": "row", "type": "quantitative"}, "text": {"field": "study", "type": "nominal"}}},
            {"data": {"name": "E"}, "transform": [{"filter": "isValid(datum.ci)"}],
             "mark": {"type": "text", "align": "left", "baseline": "middle", "font": "Liberation Sans, Arial", "fontSize": 5.2, "color": "#1a1a1a"},
             "encoding": {"x": {"datum": 11.86, "type": "quantitative"}, "y": {"field": "row", "type": "quantitative"}, "text": {"field": "ci", "type": "nominal"}}},
            {"data": {"name": "E"}, "transform": [{"filter": "isValid(datum.wt)"}],
             "mark": {"type": "text", "align": "left", "baseline": "middle", "font": "Liberation Sans, Arial", "fontSize": 5.2, "color": "#1a1a1a"},
             "encoding": {"x": {"datum": 66.62, "type": "quantitative"}, "y": {"field": "row", "type": "quantitative"}, "text": {"field": "wt", "type": "nominal"}}},
            {"data": {"values": [{"t": "AA vs. aa/Aa"}]},
             "mark": {"type": "text", "align": "center", "baseline": "middle", "font": "Liberation Sans, Arial", "fontSize": 11, "color": "#1a1a1a", "dx": -4},
             "encoding": {"x": {"datum": 1, "type": "quantitative"}, "y": {"datum": 0, "type": "quantitative"}, "text": {"field": "t", "type": "nominal"}}},
            {"data": {"values": [{"t": "E"}]},
             "mark": {"type": "text", "align": "left", "baseline": "alphabetic", "font": "Liberation Sans, Arial", "fontWeight": "bold", "fontSize": 32, "color": "#000000"},
             "encoding": {"x": {"datum": 0.01193, "type": "quantitative"}, "y": {"datum": -3.18, "type": "quantitative"}, "text": {"field": "t", "type": "nominal"}}}
          ]
        }
      ]
    }
  ]
}
